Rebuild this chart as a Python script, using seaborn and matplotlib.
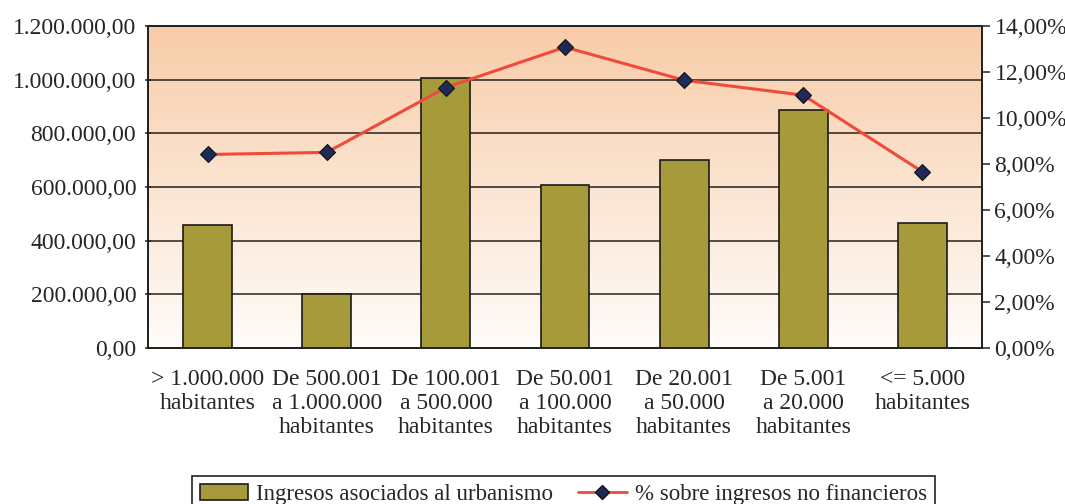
import numpy as np
import pandas as pd
import seaborn as sns
import matplotlib.pyplot as plt
from matplotlib.colors import LinearSegmentedColormap
from matplotlib.lines import Line2D
from matplotlib.patches import Patch
from matplotlib.ticker import FuncFormatter, MultipleLocator

#%% data
categorias = ["> 1.000.000\nhabitantes", "De 500.001\na 1.000.000\nhabitantes",
              "De 100.001\na 500.000\nhabitantes", "De 50.001\na 100.000\nhabitantes",
              "De 20.001\na 50.000\nhabitantes", "De 5.001\na 20.000\nhabitantes",
              "<= 5.000\nhabitantes"]
ingresos = [458000, 201000, 1007000, 607000, 700000, 887000, 466000]
porcentaje = [8.42, 8.51, 11.33, 13.09, 11.65, 11.00, 7.67]

df = pd.DataFrame({"cat": categorias, "ingresos": ingresos, "pct": porcentaje})

#%% style
sns.set_style("white")
plt.rcParams['font.family'] = ['Liberation Serif', 'DejaVu Serif']
fs = 17

def miles(v, pos=None):
    s = f"{v:,.2f}"
    return s.replace(",", "X").replace(".", ",").replace("X", ".")

def pct_fmt(v, pos=None):
    return f"{v:.2f}".replace(".", ",") + "%"

fig = plt.figure(figsize=(10.65, 5.04), dpi=100)
ax = fig.add_axes([0.139, 0.3095, 0.783, 0.6385])

# gradient background
cmap_bg = LinearSegmentedColormap.from_list("bg", ["#FFFCF9", "#F8CCA8"])
grad = np.linspace(0, 1, 256).reshape(-1, 1)
ax.imshow(grad, cmap=cmap_bg, aspect='auto', origin='lower',
          extent=[0, 1, 0, 1], transform=ax.transAxes, zorder=0)

sns.barplot(data=df, x="cat", y="ingresos", color="#A69A3B", width=0.41,
            edgecolor="#1a1a1a", linewidth=1.2, saturation=1, ax=ax, zorder=3)
ax.set_ylim(0, 1200000)
ax.set_xlim(-0.5, 6.5)
ax.yaxis.set_major_locator(MultipleLocator(200000))
ax.yaxis.set_major_formatter(FuncFormatter(miles))
for yv in range(200000, 1200001, 200000):
    ax.axhline(yv, color="#222222", lw=1.1, zorder=2)
ax.set_xlabel("")
ax.set_ylabel("")
ax.set_xticks(range(7))
ax.set_xticklabels(categorias, linespacing=1.2)
ax.set_xticks(np.arange(-0.5, 7, 1), minor=True)
ax.tick_params(axis='x', which='major', length=0, pad=15, labelsize=fs)
ax.tick_params(axis='x', which='minor', length=7, width=1.1, direction='out', color="#222222")
ax.tick_params(axis='y', length=5, width=1.1, direction='inout', pad=6, labelsize=fs, color="#222222")
for sp in ax.spines.values():
    sp.set_color("#222222")
    sp.set_linewidth(1.3)

ax2 = ax.twinx()
sns.lineplot(x=np.arange(7), y=porcentaje, ax=ax2, color="#F04A3A", lw=2.2,
             marker="D", markersize=8, markerfacecolor="#202A58",
             markeredgecolor="#111111", markeredgewidth=0.8, zorder=5)
ax2.set_ylim(0, 14)
ax2.set_xlim(-0.5, 6.5)
ax2.yaxis.set_major_locator(MultipleLocator(2))
ax2.yaxis.set_major_formatter(FuncFormatter(pct_fmt))
ax2.tick_params(axis='y', length=6, width=1.1, direction='out', pad=3, labelsize=fs, color="#222222")
for sp in ax2.spines.values():
    sp.set_color("#222222")
    sp.set_linewidth(1.3)

handles = [Patch(facecolor="#A69A3B", edgecolor="#1a1a1a", linewidth=1.2),
           Line2D([0], [0], color="#F04A3A", lw=2, marker="D", markersize=7,
                  markerfacecolor="#202A58", markeredgecolor="#111111")]
leg = fig.legend(handles, ["Ingresos asociados al urbanismo", "% sobre ingresos no financieros"],
                 loc="upper center", bbox_to_anchor=(0.529, 0.055), ncol=2, fontsize=16.5,
                 frameon=True, fancybox=False, edgecolor="#222222", framealpha=1,
                 handlelength=2.1, handleheight=0.7, handletextpad=0.35, columnspacing=1.1,
                 borderpad=0.35, borderaxespad=0)
leg.get_frame().set_linewidth(1.2)

fig.savefig("out.png", dpi=100)
